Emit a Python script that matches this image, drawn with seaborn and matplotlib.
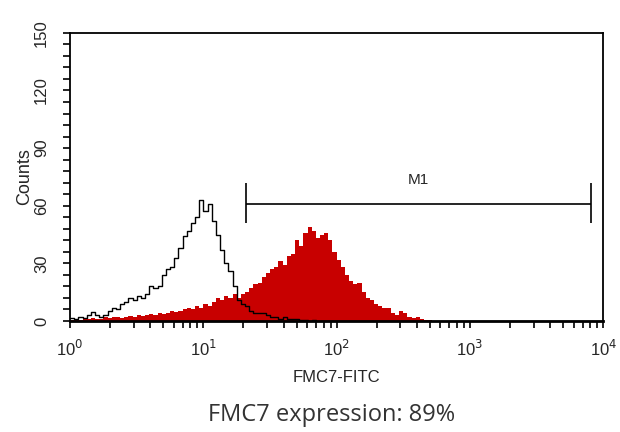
import numpy as np
import pandas as pd
import matplotlib
matplotlib.use("Agg")
import matplotlib.pyplot as plt
import seaborn as sns
from matplotlib.ticker import FixedLocator, LogLocator, NullFormatter

# flow cytometry histogram, 128 log channels over 4 decades (32 per decade)
n_per_decade = 32
n_decades = 4

# isotype control (black outline), counts per channel starting at 10^0
control_counts = [1.5, 1, 2, 1.5, 3, 4.5, 3, 2, 3, 5,
                  7, 6, 9, 10, 12, 11, 13, 12, 14, 18,
                  17, 18, 24, 27, 28, 33, 38, 44, 47, 51,
                  54, 63, 57, 61, 52, 45, 37, 30, 26, 18,
                  11, 9, 8, 5, 4, 4, 4, 3, 2, 2,
                  1, 2, 1, 1, 1, 0.5, 0.5, 0, 0.5, 0]

# FMC7 stained sample (red filled)
fmc7_counts = [0.5, 1, 0.5, 1, 1, 1.5, 1, 1, 2, 1.5,
               2, 2, 1.5, 2, 2.5, 2, 3, 2.5, 3, 3.5,
               3, 4, 3.5, 4, 5, 4.5, 5, 6, 7, 6,
               8, 7, 9, 8, 10, 12, 11, 13, 12, 14,
               12, 14, 15, 17, 19, 20, 23, 25, 27, 28,
               31, 29, 34, 35, 42, 39, 46, 49, 47, 43,
               45, 46, 42, 36, 32, 28, 24, 21, 19, 20,
               15, 12, 11, 9, 8, 7, 7, 4, 3, 5,
               4, 2, 1.5, 2, 1, 0.5, 0.3]

# M1 gate
gate_lo, gate_hi, gate_y = 21, 8100, 61
gate_label = "M1"

y_ticks = [0, 30, 60, 90, 120, 150]
x_ticks = [1, 10, 100, 1000, 10000]
x_ticklabels = ["10$^0$", "10$^1$", "10$^2$", "10$^3$", "10$^4$"]

channels = 10 ** ((np.arange(n_per_decade * n_decades) + 0.5) / n_per_decade)
df_ctrl = pd.DataFrame({"fl": channels[:len(control_counts)], "count": control_counts})
df_fmc7 = pd.DataFrame({"fl": channels[:len(fmc7_counts)], "count": fmc7_counts})

sns.set_style("white")
plt.rcParams["font.family"] = ["Liberation Sans", "DejaVu Sans"]

fig = plt.figure(figsize=(6.2, 4.32), dpi=100)
ax = fig.add_axes([0.113, 0.257, 0.86, 0.667])

hist_kw = dict(x="fl", weights="count", log_scale=True, bins=n_per_decade * n_decades,
               binrange=(0, n_decades), element="step", stat="count", ax=ax)
sns.histplot(data=df_fmc7, fill=True, color="#c80000", alpha=1, linewidth=0, **hist_kw)
sns.histplot(data=df_ctrl, fill=False, color="black", linewidth=1.0, **hist_kw)

# gate marker
ax.hlines(gate_y, gate_lo, gate_hi, color="black", linewidth=1.2)
ax.vlines([gate_lo, gate_hi], gate_y - 10, gate_y + 11, color="black", linewidth=1.2)
ax.text(np.sqrt(gate_lo * gate_hi), gate_y + 9, gate_label, ha="center", va="bottom", fontsize=11)

ax.set_xlim(1, 10000)
ax.set_ylim(0, 150)
ax.set_xticks(x_ticks)
ax.set_xticklabels(x_ticklabels, fontsize=12)
ax.xaxis.set_minor_locator(LogLocator(base=10, subs=np.arange(2, 10)))
ax.xaxis.set_minor_formatter(NullFormatter())
ax.set_yticks(y_ticks)
ax.set_yticklabels([str(v) for v in y_ticks], rotation=90, va="center", fontsize=12)
ax.yaxis.set_minor_locator(FixedLocator(np.arange(0, 151, 6)))

ax.tick_params(which="both", direction="out", length=5, width=1.2, color="black")
ax.tick_params(axis="x", which="both", bottom=True, pad=8)
ax.tick_params(axis="y", which="both", left=True, pad=10)
for s in ax.spines.values():
    s.set_color("black")
    s.set_linewidth(1.3)
ax.spines["bottom"].set_linewidth(2)

ax.set_xlabel("FMC7-FITC", fontsize=12, labelpad=8)
ax.set_ylabel("Counts", fontsize=13, labelpad=1)

fig.text(0.535, 0.04, "FMC7 expression: 89%", ha="center", va="center",
         fontsize=17, color="#333333", family=["Open Sans", "DejaVu Sans"])

fig.savefig("out.png", dpi=100)
